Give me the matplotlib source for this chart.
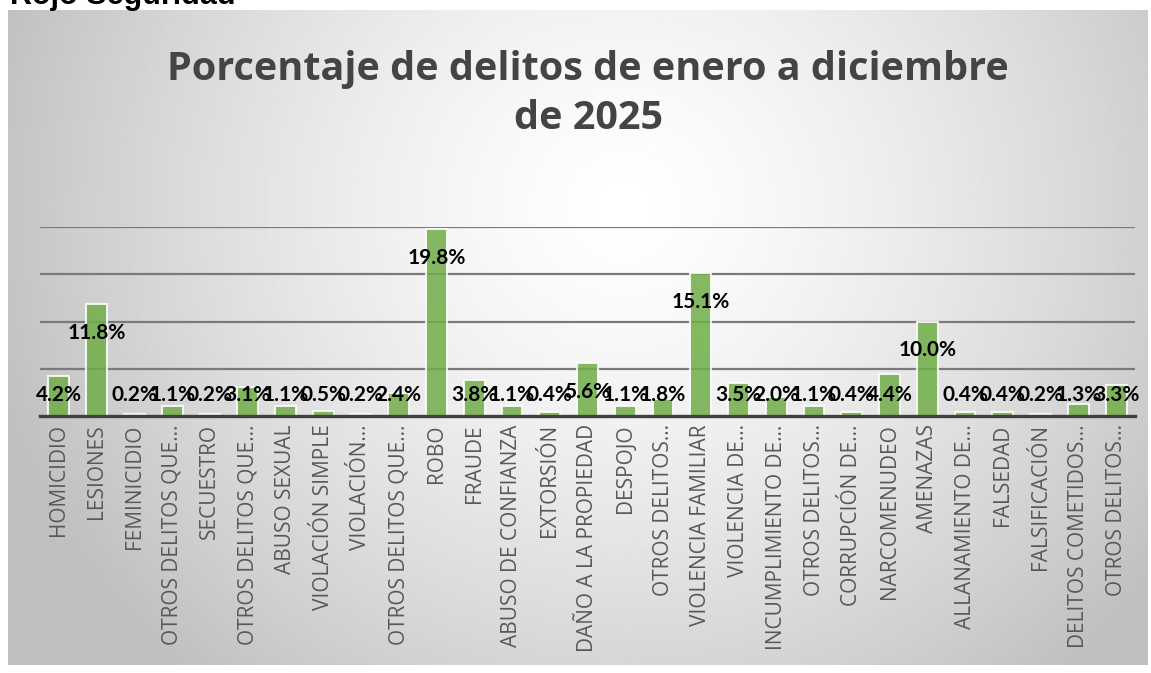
import numpy as np
import matplotlib
matplotlib.use('Agg')
import matplotlib.pyplot as plt

categorias = ['HOMICIDIO', 'LESIONES', 'FEMINICIDIO', 'OTROS DELITOS QUE…', 'SECUESTRO',
              'OTROS DELITOS QUE…', 'ABUSO SEXUAL', 'VIOLACIÓN SIMPLE', 'VIOLACIÓN…',
              'OTROS DELITOS QUE…', 'ROBO', 'FRAUDE', 'ABUSO DE CONFIANZA', 'EXTORSIÓN',
              'DAÑO A LA PROPIEDAD', 'DESPOJO', 'OTROS DELITOS…', 'VIOLENCIA FAMILIAR',
              'VIOLENCIA DE…', 'INCUMPLIMIENTO DE…', 'OTROS DELITOS…', 'CORRUPCIÓN DE…',
              'NARCOMENUDEO', 'AMENAZAS', 'ALLANAMIENTO DE…', 'FALSEDAD', 'FALSIFICACIÓN',
              'DELITOS COMETIDOS…', 'OTROS DELITOS…']
porcentajes = [4.2, 11.8, 0.2, 1.1, 0.2, 3.1, 1.1, 0.5, 0.2, 2.4, 19.8, 3.8, 1.1, 0.4,
               5.6, 1.1, 1.8, 15.1, 3.5, 2.0, 1.1, 0.4, 4.4, 10.0, 0.4, 0.4, 0.2, 1.3, 3.3]

W, H = 1151, 673
fig = plt.figure(figsize=(W / 100, H / 100), dpi=100)

# chart area with a radial grey gradient
bg = fig.add_axes([8 / W, 1 - 665 / H, 1140 / W, 655 / H])
yy, xx = np.mgrid[0:1:300j, 0:1:500j]
r = np.sqrt((xx - 0.54) ** 2 + ((yy - 0.3) * 0.6) ** 2)
shade = 1.0 - 0.25 * np.clip(r / 0.58, 0, 1) ** 1.4
bg.imshow(shade, cmap='gray', vmin=0, vmax=1, aspect='auto', extent=[0, 1, 1, 0])
bg.axis('off')

fig.text(10 / W, 1 - 4 / H, 'Rojo Seguridad', fontsize=22, fontweight='bold',
         family='Liberation Sans', color='black', va='baseline', ha='left')

fig.text(588 / W, 1 - 94 / H, 'Porcentaje de delitos de enero a diciembre\nde 2025',
         ha='center', va='center', fontsize=28.5, fontweight='bold', family='Open Sans',
         color='#444444', linespacing=1.35)

ax = fig.add_axes([40 / W, 1 - 416 / H, 1095 / W, 189 / H])
ax.patch.set_alpha(0)
x = np.arange(len(porcentajes))
ax.bar(x, porcentajes, width=0.55, color='#70ad47', alpha=0.85,
       edgecolor='white', linewidth=1.5, zorder=3)
ax.set_xlim(-0.5, len(porcentajes) - 0.5)
ax.set_ylim(0, 20)
ax.set_yticks([5, 10, 15, 20])
ax.yaxis.grid(True, color='#7a7a7a', linewidth=1.6, zorder=0)
ax.tick_params(axis='y', left=False, labelleft=False)
for s in ['top', 'right', 'left']:
    ax.spines[s].set_visible(False)
ax.spines['bottom'].set_color('#404040')
ax.spines['bottom'].set_linewidth(2.4)
ax.spines['bottom'].set_zorder(4)

ax.set_xticks(x)
ax.set_xticklabels(categorias[:len(porcentajes)], rotation=90, fontsize=15,
                   family='Open Sans', color='#595959')
ax.tick_params(axis='x', length=0, pad=6)

for xi, v in zip(x, porcentajes):
    ax.text(xi, max(v - 3.05, 2.2), f'{v:.1f}%', ha='center', va='center',
            fontsize=15, fontweight='bold', family='Lato', color='black', zorder=5)

fig.savefig('out.png', dpi=100)
